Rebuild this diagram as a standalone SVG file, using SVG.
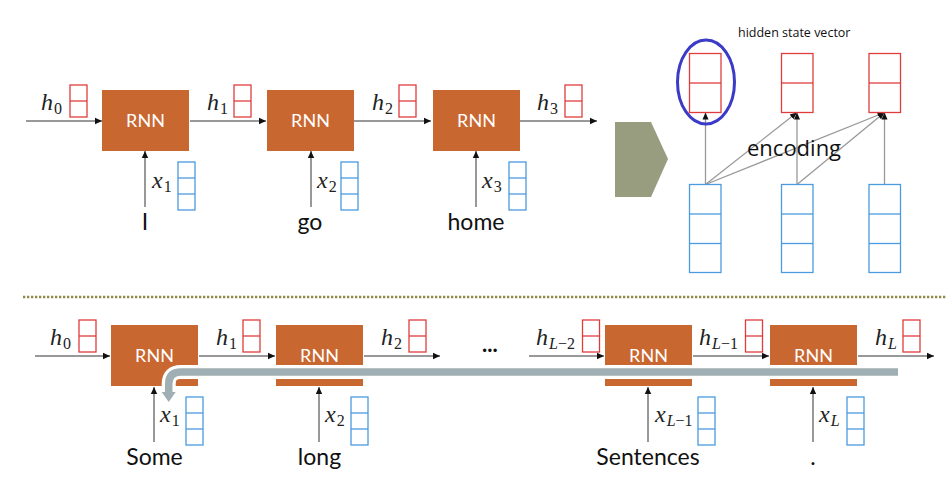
<svg xmlns="http://www.w3.org/2000/svg" width="952" height="483" viewBox="0 0 952 483">
<style>
.rnn{fill:#C96731}
.rnnt{fill:#fff;font-family:Lato,"Open Sans",sans-serif;font-size:18px;text-anchor:middle}
.hb{fill:#fff;stroke:#E03C3C;stroke-width:1.3}
.xb{fill:#fff;stroke:#4A9BE0;stroke-width:1.3}
.ar{stroke:#333;stroke-width:1;fill:none;marker-end:url(#ah)}
.ga{stroke:#999;stroke-width:1.3;fill:none;marker-end:url(#ah2)}
.m{font-family:"Liberation Serif","DejaVu Serif",serif;font-style:italic;font-size:24px;fill:#222}
.s{font-size:16px;font-style:normal}
.si{font-size:16px;font-style:italic}
.w{font-family:Lato,"Open Sans",sans-serif;font-size:23px;fill:#111;text-anchor:middle}
</style>
<defs>
<marker id="ah" markerUnits="userSpaceOnUse" markerWidth="8" markerHeight="8" refX="7" refY="4" orient="auto">
<path d="M0,0.8 L7,4 L0,7.2 z" fill="#111"/>
</marker>
<marker id="ah2" markerUnits="userSpaceOnUse" markerWidth="8" markerHeight="8" refX="7" refY="4" orient="auto">
<path d="M0,1 L7,4 L0,7 z" fill="#111"/>
</marker>
</defs>
<rect width="952" height="483" fill="#fff"/>

<g id="connectors">
<line class="ar" x1="26" y1="121" x2="102" y2="121"/>
<line class="ar" x1="190" y1="121" x2="266" y2="121"/>
<line class="ar" x1="354" y1="121" x2="431" y2="121"/>
<line class="ar" x1="520" y1="121" x2="597" y2="121"/>
<line class="ar" x1="145" y1="207" x2="145" y2="151"/>
<line class="ar" x1="311" y1="207" x2="311" y2="151"/>
<line class="ar" x1="476" y1="207" x2="476" y2="151"/>

<line class="ga" x1="705.5" y1="184.5" x2="705.5" y2="112.5"/>
<line class="ga" x1="705.5" y1="184.5" x2="797" y2="112.5"/>
<line class="ga" x1="705.5" y1="184.5" x2="884.5" y2="112.5"/>
<line class="ga" x1="797" y1="184.5" x2="797" y2="112.5"/>
<line class="ga" x1="797" y1="184.5" x2="884.5" y2="112.5"/>
<line class="ga" x1="884.5" y1="184.5" x2="884.5" y2="112.5"/>

<line class="ar" x1="35" y1="356" x2="110" y2="356"/>
<line class="ar" x1="199" y1="356" x2="275" y2="356"/>
<line class="ar" x1="364" y1="356" x2="440" y2="356"/>
<line class="ar" x1="529" y1="356" x2="604" y2="356"/>
<line class="ar" x1="693" y1="356" x2="769" y2="356"/>
<line class="ar" x1="858" y1="356" x2="934" y2="356"/>
<line class="ar" x1="154" y1="442" x2="154" y2="387"/>
<line class="ar" x1="319" y1="442" x2="319" y2="387"/>
<line class="ar" x1="648" y1="442" x2="648" y2="387"/>
<line class="ar" x1="813" y1="442" x2="813" y2="387"/>
</g>

<g id="top-row">
<g id="rnn1"><rect class="rnn" x="102" y="90" width="87" height="61"/><text class="rnnt" x="145.5" y="127">RNN</text></g>
<g id="rnn2"><rect class="rnn" x="267" y="90" width="87" height="61"/><text class="rnnt" x="310.5" y="127">RNN</text></g>
<g id="rnn3"><rect class="rnn" x="433" y="90" width="87" height="61"/><text class="rnnt" x="476.5" y="127">RNN</text></g>

<g id="h0t"><text class="m" x="41" y="110">h<tspan class="s" dx="1" dy="4">0</tspan></text><rect class="hb" x="70" y="85" width="17" height="32"/><line class="hb" x1="70" y1="101" x2="87" y2="101"/></g>
<g id="h1t"><text class="m" x="207" y="110">h<tspan class="s" dx="1" dy="4">1</tspan></text><rect class="hb" x="234" y="85" width="17" height="32"/><line class="hb" x1="234" y1="101" x2="251" y2="101"/></g>
<g id="h2t"><text class="m" x="372" y="110">h<tspan class="s" dx="1" dy="4">2</tspan></text><rect class="hb" x="399" y="85" width="17" height="32"/><line class="hb" x1="399" y1="101" x2="416" y2="101"/></g>
<g id="h3t"><text class="m" x="537" y="110">h<tspan class="s" dx="1" dy="4">3</tspan></text><rect class="hb" x="565" y="85" width="17" height="32"/><line class="hb" x1="565" y1="101" x2="582" y2="101"/></g>

<g id="x1t"><text class="m" x="152" y="188">x<tspan class="s" dx="1" dy="4">1</tspan></text><rect class="xb" x="178" y="162" width="17" height="48"/><line class="xb" x1="178" y1="178" x2="195" y2="178"/><line class="xb" x1="178" y1="194" x2="195" y2="194"/></g>
<g id="x2t"><text class="m" x="317" y="188">x<tspan class="s" dx="1" dy="4">2</tspan></text><rect class="xb" x="341" y="162" width="17" height="48"/><line class="xb" x1="341" y1="178" x2="358" y2="178"/><line class="xb" x1="341" y1="194" x2="358" y2="194"/></g>
<g id="x3t"><text class="m" x="482" y="188">x<tspan class="s" dx="1" dy="4">3</tspan></text><rect class="xb" x="509" y="162" width="17" height="48"/><line class="xb" x1="509" y1="178" x2="526" y2="178"/><line class="xb" x1="509" y1="194" x2="526" y2="194"/></g>

<text class="w" x="145" y="230">I</text>
<text class="w" x="310" y="230">go</text>
<text class="w" x="476" y="230">home</text>
</g>

<g id="chevron"><polygon points="615,122 651,122 668,159 651,197 615,197" fill="#999D7F"/></g>

<g id="encoding">
<text x="738" y="37" font-family="'Open Sans','Noto Sans',sans-serif" font-size="12.5" fill="#111">hidden state vector</text>
<g id="hs1"><rect class="hb" x="689.5" y="53.5" width="31.5" height="59"/><line class="hb" x1="689.5" y1="83" x2="721" y2="83"/></g>
<g id="hs2"><rect class="hb" x="781.5" y="53.5" width="31.5" height="59"/><line class="hb" x1="781.5" y1="83" x2="813" y2="83"/></g>
<g id="hs3"><rect class="hb" x="869" y="53.5" width="31.5" height="59"/><line class="hb" x1="869" y1="83" x2="900.5" y2="83"/></g>
<g id="xs1"><rect class="xb" x="689.5" y="184.5" width="31.5" height="88"/><line class="xb" x1="689.5" y1="214" x2="721" y2="214"/><line class="xb" x1="689.5" y1="243.5" x2="721" y2="243.5"/></g>
<g id="xs2"><rect class="xb" x="781.5" y="184.5" width="31.5" height="88"/><line class="xb" x1="781.5" y1="214" x2="813" y2="214"/><line class="xb" x1="781.5" y1="243.5" x2="813" y2="243.5"/></g>
<g id="xs3"><rect class="xb" x="869" y="184.5" width="31.5" height="88"/><line class="xb" x1="869" y1="214" x2="900.5" y2="214"/><line class="xb" x1="869" y1="243.5" x2="900.5" y2="243.5"/></g>
<ellipse cx="706" cy="82" rx="28.5" ry="42" fill="none" stroke="#3B3BC8" stroke-width="3"/>
<text x="747" y="156" font-family="'Open Sans','Noto Sans',sans-serif" font-size="22" fill="#111">encoding</text>
</g>

<line id="separator" x1="23" y1="297" x2="946" y2="297" stroke="#8F8A4A" stroke-width="2.3" stroke-dasharray="2.3,1.7"/>

<g id="bottom-row">
<g id="rnnb1"><rect class="rnn" x="111" y="325" width="87" height="61"/><text class="rnnt" x="154.5" y="362">RNN</text></g>
<g id="rnnb2"><rect class="rnn" x="276" y="325" width="87" height="61"/><text class="rnnt" x="319.5" y="362">RNN</text></g>
<g id="rnnb3"><rect class="rnn" x="605" y="325" width="87" height="61"/><text class="rnnt" x="648.5" y="362">RNN</text></g>
<g id="rnnb4"><rect class="rnn" x="770" y="325" width="87" height="61"/><text class="rnnt" x="813.5" y="362">RNN</text></g>

<g id="backflow">
<path d="M898,372 H181 Q168.7,372 168.7,384 V393" fill="none" stroke="#fff" stroke-width="14"/>
<polygon points="159,391 178.4,391 168.7,405" fill="#fff"/>
<path d="M898,372 H181 Q168.7,372 168.7,384 V393" fill="none" stroke="#A0AFB3" stroke-width="7.5"/>
<polygon points="161.7,392 175.7,392 168.7,402" fill="#A0AFB3"/>
</g>

<g id="h0b"><text class="m" x="50" y="345">h<tspan class="s" dx="1" dy="4">0</tspan></text><rect class="hb" x="79" y="320" width="17" height="32"/><line class="hb" x1="79" y1="336" x2="96" y2="336"/></g>
<g id="h1b"><text class="m" x="216" y="345">h<tspan class="s" dx="1" dy="4">1</tspan></text><rect class="hb" x="243" y="320" width="17" height="32"/><line class="hb" x1="243" y1="336" x2="260" y2="336"/></g>
<g id="h2b"><text class="m" x="381" y="345">h<tspan class="s" dx="1" dy="4">2</tspan></text><rect class="hb" x="409" y="320" width="17" height="32"/><line class="hb" x1="409" y1="336" x2="426" y2="336"/></g>
<g id="hL2b"><text class="m" x="536" y="345">h<tspan class="si" dx="1" dy="4">L</tspan><tspan class="s">−2</tspan></text><rect class="hb" x="582.5" y="320" width="17" height="32"/><line class="hb" x1="582.5" y1="336" x2="599.5" y2="336"/></g>
<g id="hL1b"><text class="m" x="699" y="345">h<tspan class="si" dx="1" dy="4">L</tspan><tspan class="s">−1</tspan></text><rect class="hb" x="745.5" y="320" width="17" height="32"/><line class="hb" x1="745.5" y1="336" x2="762.5" y2="336"/></g>
<g id="hLb"><text class="m" x="875" y="345">h<tspan class="si" dx="1" dy="4">L</tspan></text><rect class="hb" x="903" y="320" width="17" height="32"/><line class="hb" x1="903" y1="336" x2="920" y2="336"/></g>

<text x="482" y="352" font-family="Lato,'Open Sans',sans-serif" font-size="22" font-weight="bold" fill="#111">...</text>

<g id="x1b"><text class="m" x="160" y="422">x<tspan class="s" dx="1" dy="4">1</tspan></text><rect class="xb" x="186" y="397" width="17" height="48"/><line class="xb" x1="186" y1="413" x2="203" y2="413"/><line class="xb" x1="186" y1="429" x2="203" y2="429"/></g>
<g id="x2b"><text class="m" x="325" y="422">x<tspan class="s" dx="1" dy="4">2</tspan></text><rect class="xb" x="351" y="397" width="17" height="48"/><line class="xb" x1="351" y1="413" x2="368" y2="413"/><line class="xb" x1="351" y1="429" x2="368" y2="429"/></g>
<g id="xL1b"><text class="m" x="655" y="422">x<tspan class="si" dx="1" dy="4">L</tspan><tspan class="s">−1</tspan></text><rect class="xb" x="698" y="397" width="17" height="48"/><line class="xb" x1="698" y1="413" x2="715" y2="413"/><line class="xb" x1="698" y1="429" x2="715" y2="429"/></g>
<g id="xLb"><text class="m" x="819" y="422">x<tspan class="si" dx="1" dy="4">L</tspan></text><rect class="xb" x="847" y="397" width="17" height="48"/><line class="xb" x1="847" y1="413" x2="864" y2="413"/><line class="xb" x1="847" y1="429" x2="864" y2="429"/></g>

<text class="w" x="154.5" y="465">Some</text>
<text class="w" x="319.5" y="465">long</text>
<text class="w" x="648" y="465">Sentences</text>
<text class="w" x="813" y="465">.</text>
</g>
</svg>
